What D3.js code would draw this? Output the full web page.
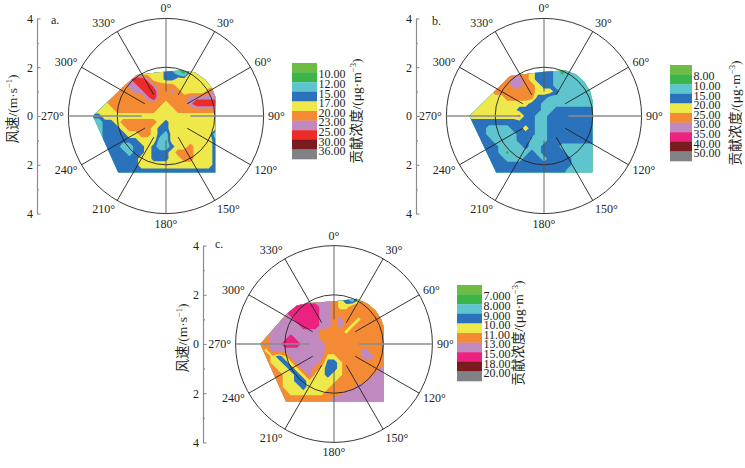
<!DOCTYPE html>
<html>
<head>
<meta charset="utf-8">
<script src="https://cdn.jsdelivr.net/npm/d3@7"></script>
<style>
  body { margin: 0; background: #fff; }
  svg { display: block; }
  text { font-family: "Liberation Serif", "Times New Roman", "Noto Sans CJK SC", serif; fill: #231f20; }
</style>
</head>
<body>
<svg id="chart" width="745" height="468"></svg>
<script>
// grid of the contour data: columns x = -3 .. 2, rows y = 2 .. -2.5 (m/s, step 0.25)
const gridX0 = -3, gridY0 = 2, gridStep = 0.25;

// class codes per grid cell (index into the band values)
const gridA = [
  "444444444444321144444",
  "444444444444332144444",
  "444444677644334444444",
  "555555667765554444444",
  "555555566775565444456",
  "555555555675555566666",
  "444555555555455567777",
  "444455555554445555555",
  "334444444444444444444",
  "223345555554344444444",
  "223334555543344444444",
  "223333445543244444442",
  "323333334442244444443",
  "333332233432234454443",
  "333333233433345554443",
  "333333334433344554443",
  "333333334444444444443",
  "333333333333333333333",
  "333333333333333333333"
];
const gridB = [
  "555555555543332122222",
  "555555555543332122222",
  "555555566543332222222",
  "555555566554332222222",
  "444455555554443222222",
  "444444555553322222222",
  "444444444433222222222",
  "444444443333223333333",
  "444444445332233333333",
  "333333333332233333333",
  "333222233432233333333",
  "333222223332233333333",
  "333322223322233333333",
  "333332222322333222222",
  "333332122232333322222",
  "333333222333233332222",
  "333333333333333332222",
  "333333333333333322222",
  "333333333333333322222"
];
const gridC = [
  "666677776666543245555",
  "666677776666543245555",
  "666667777766544555555",
  "666667777766555555555",
  "666666777766565545555",
  "666666677766565455555",
  "556666666655554555555",
  "556667666655555555555",
  "556677766665555555555",
  "546666666665555556555",
  "554346666664455556655",
  "554434666653345555555",
  "555443466543345555556",
  "555544346443445555566",
  "555544334444455555666",
  "555544434444555566666",
  "555554444445556666666",
  "555555555555666666666",
  "555555555555666666666"
];

// class boundaries (µg·m-3) and a representative value for each class
const thresholdsA = [10, 12, 15, 17, 20, 23, 25, 30, 36];
const bandValuesA = [9, 11, 13.5, 16, 18.5, 21.5, 24, 27.5, 33, 38];
const labelsA = ["10.00", "12.00", "15.00", "17.00", "20.00", "23.00", "25.00", "30.00", "36.00"];

const thresholdsB = [8, 10, 15, 20, 25, 30, 35, 40, 50];
const bandValuesB = [7, 9, 12.5, 17.5, 22.5, 27.5, 32.5, 37.5, 45, 55];
const labelsB = ["8.00", "10.00", "15.00", "20.00", "25.00", "30.00", "35.00", "40.00", "50.00"];

const thresholdsC = [7, 8, 9, 10, 11, 13, 15, 18, 20];
const bandValuesC = [6.5, 7.5, 8.5, 9.5, 10.5, 12, 14, 16.5, 19, 21];
const labelsC = ["7.000", "8.000", "9.000", "10.00", "11.00", "13.00", "15.00", "18.00", "20.00"];

// outline of the gridded area (x, y in m/s)
const hullA = [[-3.0, 0], [-1.75, 1.2], [-1.2, 1.68], [-0.4, 1.78], [0.6, 1.88], [1.2, 1.78], [1.6, 1.5], [1.88, 1.15], [2.02, 0.8], [2.02, -2.32], [-1.96, -2.32]];
const hullB = [[-3.06, 0], [-1.39, 1.64], [0, 1.81], [0.86, 1.88], [1.3, 1.72], [1.65, 1.4], [1.88, 1.05], [1.99, 0.65], [1.99, -2.32], [-1.96, -2.32]];
const hullC = [[-3.0, 0], [-1.92, 1.23], [-1.51, 1.57], [-1.1, 1.66], [0, 1.74], [0.92, 1.84], [1.35, 1.65], [1.7, 1.35], [1.92, 1.0], [2.03, 0.69], [2.03, -2.35], [-1.95, -2.35]];

const directions = [0, 30, 60, 90, 120, 150, 180, 210, 240, 270, 300, 330];
const speedTicks = [-4, -2, 0, 2, 4];
const speedMinor = [-3, -1, 1, 3];

const colorsA = ["#6dbd45", "#3bb54a", "#5ec5ce", "#2a72bc", "#eee84a", "#f48a34", "#c08ac0", "#ec2b2a", "#7a1b1d", "#818285"];
const colorsBC = ["#6dbd45", "#3bb54a", "#5ec5ce", "#2a72bc", "#eee84a", "#f48a34", "#c08ac0", "#eb2280", "#7a1b1d", "#818285"];

const panels = [
  { id: "a", grid: gridA, thresholds: thresholdsA, bandValues: bandValuesA, labels: labelsA, hull: hullA, colors: colorsA,
    cx: 166, cy: 116, R: 97.6, axisX: 37, leg: { x: 292, y: 63, w: 25, h: 96 }, titleX: 361, tag: [51, 24], yLabel: [17, 109] },
  { id: "b", grid: gridB, thresholds: thresholdsB, bandValues: bandValuesB, labels: labelsB, hull: hullB, colors: colorsBC,
    cx: 544, cy: 116, R: 97.6, axisX: 416, leg: { x: 670, y: 65, w: 22, h: 96 }, titleX: 740, tag: [432, 25], yLabel: null },
  { id: "c", grid: gridC, thresholds: thresholdsC, bandValues: bandValuesC, labels: labelsC, hull: hullC, colors: colorsBC,
    cx: 334, cy: 344, R: 98.4, axisX: 203, leg: { x: 457, y: 285, w: 25, h: 96 }, titleX: 522.5, tag: [215, 248], yLabel: [187, 338] }
];

const svg = d3.select("#chart");

function drawPanel(p) {
  const g = svg.append("g").attr("class", "panel-" + p.id);
  const x = d3.scaleLinear().domain([-4, 4]).range([p.cx - p.R, p.cx + p.R]);
  const y = d3.scaleLinear().domain([-4, 4]).range([p.cy + p.R, p.cy - p.R]);

  // contour bands
  const nx = p.grid[0].length, ny = p.grid.length;
  const gx = d3.scaleLinear().domain([0.5, nx - 0.5]).range([gridX0, gridX0 + gridStep * (nx - 1)]);
  const gy = d3.scaleLinear().domain([0.5, ny - 0.5]).range([gridY0, gridY0 - gridStep * (ny - 1)]);
  const values = p.grid.flatMap(row => Array.from(row, c => p.bandValues[+c]));
  const bands = d3.contours().size([nx, ny]).thresholds(p.thresholds)(values);
  const path = d3.geoPath(d3.geoTransform({
    point(px, py) { this.stream.point(x(gx(px)), y(gy(py))); }
  }));
  const hullLine = d3.line().x(d => x(d[0])).y(d => y(d[1]));

  g.append("clipPath").attr("id", "hull-" + p.id)
    .append("path").attr("d", hullLine(p.hull) + "Z");
  const fills = g.append("g").attr("clip-path", `url(#hull-${p.id})`);
  fills.append("path").attr("d", hullLine(p.hull) + "Z").attr("fill", p.colors[0]);
  fills.selectAll("path.band")
    .data(bands)
    .join("path")
      .attr("class", "band")
      .attr("d", path)
      .attr("fill", (d, i) => p.colors[i + 1]);

  // polar grid
  const r = v => x(v) - x(0);
  g.selectAll("circle.ring")
    .data([2, 4])
    .join("circle")
      .attr("class", "ring")
      .attr("cx", x(0)).attr("cy", y(0))
      .attr("r", d => r(d))
      .attr("fill", "none").attr("stroke", "#231f20").attr("stroke-width", 0.9);

  const rad = d => d * Math.PI / 180;
  g.selectAll("line.spoke")
    .data(directions)
    .join("line")
      .attr("class", "spoke")
      .attr("x1", d => x(Math.sin(rad(d)) * 1))
      .attr("y1", d => y(Math.cos(rad(d)) * 1))
      .attr("x2", d => x(Math.sin(rad(d)) * 4))
      .attr("y2", d => y(Math.cos(rad(d)) * 4))
      .attr("stroke", d => d % 180 === 90 ? "#8c8c8c" : (d % 180 === 0 ? "#555" : "#231f20"))
      .attr("stroke-width", d => d % 180 === 90 ? 1.5 : 0.9);

  g.selectAll("text.dir")
    .data(directions)
    .join("text")
      .attr("class", "dir")
      .attr("x", d => x(0) + (p.R + 4.5) * Math.sin(rad(d)))
      .attr("y", d => y(0) - (p.R + 4.5) * Math.cos(rad(d)) + 4 - 5.5 * Math.cos(rad(d)))
      .attr("text-anchor", d => Math.sin(rad(d)) > 0.01 ? "start" : (Math.sin(rad(d)) < -0.01 ? "end" : "middle"))
      .attr("font-size", 12)
      .text(d => d + "°");

  // speed axis
  const axis = d3.axisLeft(y).tickValues(speedTicks).tickFormat(d => Math.abs(d))
    .tickSizeInner(-3.5).tickSizeOuter(0).tickPadding(4);
  const ax = g.append("g").attr("transform", `translate(${p.axisX},0)`).call(axis);
  ax.select(".domain").attr("stroke", "#8c8c8c").attr("stroke-width", 1.2);
  ax.selectAll(".tick line").attr("stroke", "#8c8c8c").attr("stroke-width", 1.1);
  ax.selectAll(".tick text").attr("font-size", 12).attr("font-family", null).attr("fill", "#231f20");
  const minor = d3.axisLeft(y).tickValues(speedMinor).tickFormat("").tickSizeInner(-2).tickSizeOuter(0);
  const mx = g.append("g").attr("transform", `translate(${p.axisX},0)`).call(minor);
  mx.select(".domain").remove();
  mx.selectAll(".tick line").attr("stroke", "#8c8c8c").attr("stroke-width", 1.1);

  g.append("text").attr("x", p.tag[0]).attr("y", p.tag[1]).attr("font-size", 12).text(p.id + ".");

  if (p.yLabel !== null) {
    const t = g.append("text")
      .attr("transform", `translate(${p.yLabel[0]},${p.yLabel[1]}) rotate(-90)`)
      .attr("text-anchor", "middle").attr("font-size", 13.5);
    t.append("tspan").text("风速/(m·s");
    t.append("tspan").attr("dy", -5).attr("font-size", 8.5).text("−1");
    t.append("tspan").attr("dy", 5).text(")");
  }

  // colour key
  const band = d3.scaleBand().domain(p.colors.map((c, i) => i)).range([p.leg.y, p.leg.y + p.leg.h]);
  g.selectAll("rect.key")
    .data(p.colors)
    .join("rect")
      .attr("class", "key")
      .attr("x", p.leg.x).attr("width", p.leg.w)
      .attr("y", (d, i) => band(i)).attr("height", band.bandwidth() + 0.3)
      .attr("fill", d => d);
  g.selectAll("text.key")
    .data(p.labels)
    .join("text")
      .attr("class", "key")
      .attr("x", p.leg.x + p.leg.w + 1.5)
      .attr("y", (d, i) => p.leg.y + band.step() * (i + 1) + 1.5)
      .attr("dy", "0.35em")
      .attr("font-size", 12)
      .text(d => d);
  const title = g.append("text")
    .attr("transform", `translate(${p.titleX},${p.leg.y + p.leg.h / 2}) rotate(-90)`)
    .attr("text-anchor", "middle").attr("font-size", 13.5);
  title.append("tspan").text("贡献浓度/(μg·m");
  title.append("tspan").attr("dy", -5).attr("font-size", 8.5).text("−3");
  title.append("tspan").attr("dy", 5).text(")");
}

panels.forEach(drawPanel);
</script>
</body>
</html>
